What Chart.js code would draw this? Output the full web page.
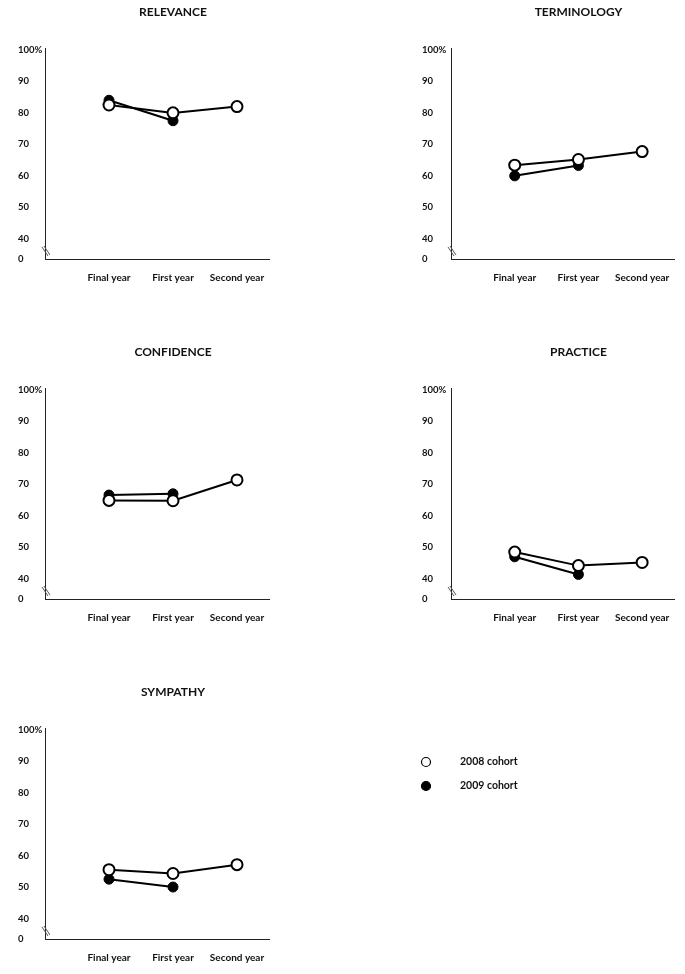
<!DOCTYPE html>
<html>
<head>
<meta charset="utf-8">
<script src="https://cdn.jsdelivr.net/npm/chart.js@4"></script>
<style>
  body { margin: 0; background: #fff; }
  #page { position: relative; width: 685px; height: 974px; }
  .box { position: absolute; height: 300px; }
</style>
</head>
<body>
<div id="page">
  <div class="box" style="left:0;top:0;width:290px"><canvas id="c1"></canvas></div>
  <div class="box" style="left:404px;top:0;width:281px"><canvas id="c2"></canvas></div>
  <div class="box" style="left:0;top:340px;width:290px"><canvas id="c3"></canvas></div>
  <div class="box" style="left:404px;top:340px;width:281px"><canvas id="c4"></canvas></div>
  <div class="box" style="left:0;top:680px;width:685px"><canvas id="c5"></canvas></div>
</div>
<script>
let categories = ['Final year', 'First year', 'Second year']
let yTicks = [40, 50, 60, 70, 80, 90, 100]
let cohorts = ['2008 cohort', '2009 cohort']

let relevance2008 = [82.5, 80, 82]
let relevance2009 = [84, 77.5]
let terminology2008 = [63.4, 65.2, 67.7]
let terminology2009 = [60, 63.3]
let confidence2008 = [64.9, 64.8, 71.4]
let confidence2009 = [66.6, 67]
let practice2008 = [48.5, 44.2, 45.2]
let practice2009 = [47, 41.4]
let sympathy2008 = [55.6, 54.4, 57.2]
let sympathy2009 = [52.6, 50.1]

const yMin = 33.6   // bottom of the broken axis, labelled "0"
const font = 'Lato, "Open Sans", sans-serif'

function points(arr) {
    return arr.map((v, i) => ({ x: i + 1, y: v }))
}

// panel title, centred over the middle category
const titlePlugin = {
    id: 'panelTitle',
    afterDraw(chart, args, opts) {
        let ctx = chart.ctx
        let x = chart.scales.x.getPixelForValue(2)
        ctx.save()
        ctx.font = 'bold 12px ' + font
        ctx.fillStyle = '#111'
        ctx.textAlign = 'center'
        ctx.textBaseline = 'middle'
        ctx.fillText(opts.text, x, 12)
        ctx.restore()
    }
}

// the little break mark on the y axis
const breakPlugin = {
    id: 'axisBreak',
    afterDraw(chart) {
        let ctx = chart.ctx
        let x = chart.scales.y.right
        let y = chart.scales.y.bottom
        ctx.save()
        ctx.strokeStyle = '#555'
        ctx.lineWidth = 1
        ctx.beginPath()
        ctx.moveTo(x - 3, y - 12); ctx.lineTo(x + 3, y - 3)
        ctx.moveTo(x - 1, y - 13); ctx.lineTo(x + 5, y - 4)
        ctx.stroke()
        ctx.restore()
    }
}

// legend drawn beside the last panel
const legendPlugin = {
    id: 'sideLegend',
    afterDraw(chart, args, opts) {
        if (!opts.show) return
        let ctx = chart.ctx
        chart.data.datasets.forEach((ds, i) => {
            let y = 82 + i * 24
            ctx.save()
            ctx.beginPath()
            ctx.arc(426, y, 4.5, 0, Math.PI * 2)
            ctx.fillStyle = ds.pointBackgroundColor
            ctx.fill()
            ctx.lineWidth = 1.2
            ctx.strokeStyle = '#000'
            ctx.stroke()
            ctx.font = 'bold 10.5px ' + font
            ctx.fillStyle = '#111'
            ctx.textBaseline = 'middle'
            ctx.fillText(ds.label, 460, y)
            ctx.restore()
        })
    }
}

function Create(id, title, d2008, d2009, padRight, legend) {
    let el = document.getElementById(id)
    return new Chart(el, {
        type: 'line',
        data: {
            datasets: [{
                label: cohorts[0],
                data: points(d2008),
                borderColor: '#000',
                borderWidth: 2,
                pointRadius: 5.5,
                pointBorderWidth: 2,
                pointBorderColor: '#000',
                pointBackgroundColor: '#fff'
            }, {
                label: cohorts[1],
                data: points(d2009),
                borderColor: '#000',
                borderWidth: 2,
                pointRadius: 5,
                pointBorderWidth: 1,
                pointBorderColor: '#000',
                pointBackgroundColor: '#000'
            }]
        },
        options: {
            responsive: true,
            maintainAspectRatio: false,
            animation: false,
            layout: { padding: { left: 18, top: 48, right: padRight, bottom: 0 } },
            plugins: {
                legend: { display: false },
                tooltip: { enabled: false },
                panelTitle: { text: title },
                sideLegend: { show: legend }
            },
            scales: {
                x: {
                    type: 'linear',
                    min: 0,
                    max: 3.5,
                    afterBuildTicks: s => { s.ticks = [1, 2, 3].map(v => ({ value: v })) },
                    afterFit: s => { s.height = 41 },
                    grid: { display: false },
                    border: { display: true, color: '#222', width: 1 },
                    ticks: {
                        padding: 5,
                        maxRotation: 0,
                        font: { family: font, size: 10, weight: 'bold' },
                        color: '#111',
                        callback: v => categories[v - 1]
                    }
                },
                y: {
                    min: yMin,
                    max: 100.6,
                    afterBuildTicks: s => { s.ticks = [yMin].concat(yTicks).map(v => ({ value: v })) },
                    afterFit: s => { s.width = id == 'c2' || id == 'c4' ? 29 : 27 },
                    grid: { display: false },
                    border: { display: true, color: '#222', width: 1 },
                    ticks: {
                        crossAlign: 'far',
                        font: { family: font, size: 9.5, weight: 'bold' },
                        color: '#111',
                        callback: v => v == 100 ? '100%' : (v < 40 ? '0' : v)
                    }
                }
            }
        },
        plugins: [titlePlugin, breakPlugin, legendPlugin]
    })
}

Create('c1', 'RELEVANCE', relevance2008, relevance2009, 21, false)
Create('c2', 'TERMINOLOGY', terminology2008, terminology2009, 11, false)
Create('c3', 'CONFIDENCE', confidence2008, confidence2009, 21, false)
Create('c4', 'PRACTICE', practice2008, practice2009, 11, false)
Create('c5', 'SYMPATHY', sympathy2008, sympathy2009, 416, true)
</script>
</body>
</html>
